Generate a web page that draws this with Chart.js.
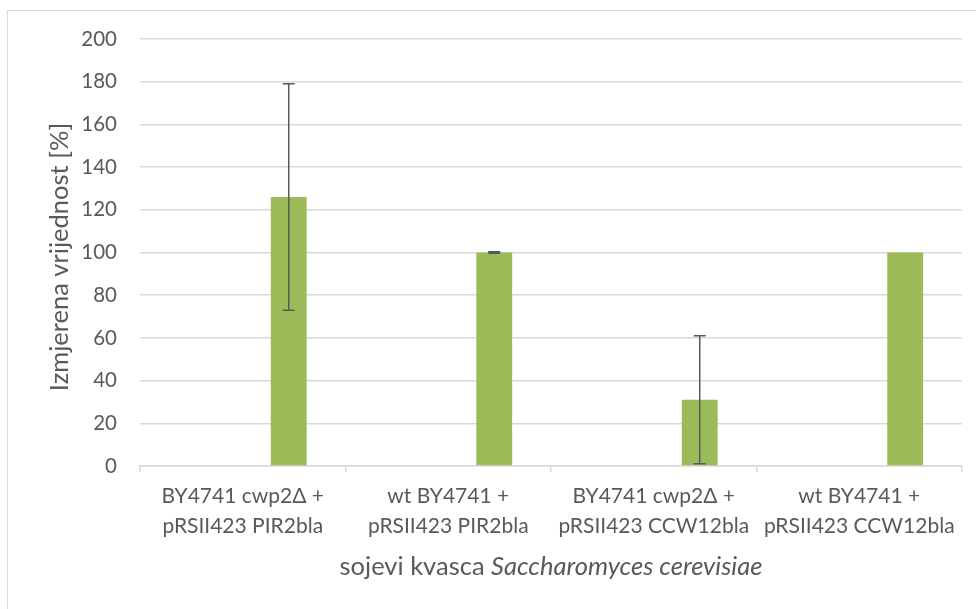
<!DOCTYPE html>
<html>
<head>
<meta charset="utf-8">
<script src="https://cdn.jsdelivr.net/npm/chart.js@4.4.1/dist/chart.umd.min.js"></script>
<style>
  html, body { margin: 0; padding: 0; background: #fff; }
  #wrap { position: relative; width: 976px; height: 609px; }
  #frame { position: absolute; left: 7px; top: 10px; width: 980px; height: 620px;
           border-left: 1.5px solid #d9d9d9; border-top: 1.5px solid #d9d9d9; }
  canvas { position: absolute; left: 0; top: 0; }
</style>
</head>
<body>
<div id="wrap">
  <div id="frame"></div>
  <canvas id="chart" width="976" height="609"></canvas>
</div>
<script>
// --- data ---
const categories = [
  ['BY4741 cwp2\u0394 +', 'pRSII423 PIR2bla'],
  ['wt BY4741 +', 'pRSII423 PIR2bla'],
  ['BY4741 cwp2\u0394 +', 'pRSII423 CCW12bla'],
  ['wt BY4741 +', 'pRSII423 CCW12bla']
];
const values   = [126, 100, 31, 100];
const errors   = [53, 0.4, 30, 0];
const emptySeries = [null, null, null, null];   // blank first series (Excel layout)

const yTitle = 'Izmjerena vrijednost [%]';
const xTitlePlain = 'sojevi kvasca ';
const xTitleItalic = 'Saccharomyces cerevisiae';

const FONT = 'Lato, "Open Sans", sans-serif';
const TEXT = '#595959';
const GRID = '#d9d9d9';
const TITLE_SIZE = 25.5;

// error bars + axis titles drawn by hand (mixed italic title)
const extras = {
  id: 'extras',
  afterDatasetsDraw(chart) {
    const ctx = chart.ctx;
    const meta = chart.getDatasetMeta(1);
    const y = chart.scales.y;
    ctx.save();
    ctx.strokeStyle = TEXT;
    ctx.lineWidth = 1.5;
    meta.data.forEach((bar, i) => {
      const e = errors[i];
      if (!e) return;
      const x = bar.x;
      const top = y.getPixelForValue(values[i] + e);
      const bot = y.getPixelForValue(values[i] - e);
      ctx.beginPath();
      ctx.moveTo(x, top); ctx.lineTo(x, bot);
      ctx.moveTo(x - 6, top); ctx.lineTo(x + 6, top);
      ctx.moveTo(x - 6, bot); ctx.lineTo(x + 6, bot);
      ctx.stroke();
    });
    ctx.restore();
  },
  afterDraw(chart) {
    const ctx = chart.ctx;
    const area = chart.chartArea;
    ctx.save();
    ctx.fillStyle = TEXT;
    ctx.textBaseline = 'middle';

    // y title
    ctx.font = TITLE_SIZE + 'px ' + FONT;
    ctx.translate(60, 257);
    ctx.rotate(-Math.PI / 2);
    ctx.textAlign = 'center';
    ctx.fillText(yTitle, 0, 0);
    ctx.setTransform(1, 0, 0, 1, 0, 0);

    // x title: plain + italic
    const cx = (area.left + area.right) / 2;
    ctx.font = TITLE_SIZE + 'px ' + FONT;
    const w1 = ctx.measureText(xTitlePlain).width;
    ctx.font = 'italic ' + TITLE_SIZE + 'px ' + FONT;
    const w2 = ctx.measureText(xTitleItalic).width;
    let x0 = cx - (w1 + w2) / 2;
    ctx.textAlign = 'left';
    ctx.font = TITLE_SIZE + 'px ' + FONT;
    ctx.fillText(xTitlePlain, x0, 567);
    ctx.font = 'italic ' + TITLE_SIZE + 'px ' + FONT;
    ctx.fillText(xTitleItalic, x0 + w1, 567);
    ctx.restore();
  }
};

new Chart(document.getElementById('chart'), {
  type: 'bar',
  data: {
    labels: categories,
    datasets: [
      { data: emptySeries, backgroundColor: '#4472c4' },
      { data: values, backgroundColor: '#9bbb59' }
    ]
  },
  options: {
    responsive: false,
    animation: false,
    devicePixelRatio: 1,
    categoryPercentage: 0.895,
    barPercentage: 0.39,
    layout: { padding: { left: 0, right: 14, top: 39, bottom: 0 } },
    plugins: { legend: { display: false }, tooltip: { enabled: false } },
    scales: {
      x: {
        afterFit(s) { s.height = 609 - 466; },
        grid: { offset: true, drawOnChartArea: false, drawTicks: true, tickLength: 6, color: GRID, lineWidth: 1.5 },
        border: { color: GRID, width: 1.5 },
        ticks: { color: TEXT, font: { family: FONT, size: 21, lineHeight: 1.45 }, padding: 9, maxRotation: 0, autoSkip: false }
      },
      y: {
        min: 0, max: 200,
        afterFit(s) { s.width = 140; },
        grid: { color: GRID, lineWidth: 1.5, drawTicks: false },
        border: { display: false },
        ticks: { stepSize: 20, color: TEXT, font: { family: FONT, size: 20.5 }, padding: 23 }
      }
    }
  },
  plugins: [extras]
});
</script>
</body>
</html>
